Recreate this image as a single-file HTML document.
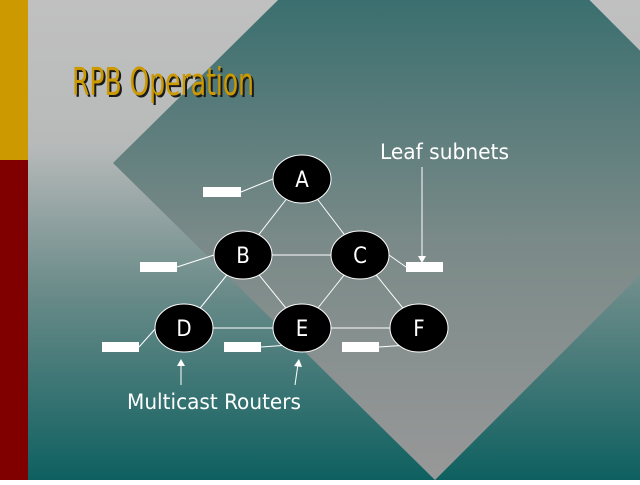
<!DOCTYPE html>
<html><head><meta charset="utf-8"><style>html,body{margin:0;padding:0;overflow:hidden}</style></head><body>
<svg width="640" height="480" viewBox="0 0 640 480" xmlns="http://www.w3.org/2000/svg" font-family="'DejaVu Sans Condensed','DejaVu Sans','Liberation Sans',sans-serif">
<defs>
<linearGradient id="bg" x1="0" y1="0" x2="0" y2="480" gradientUnits="userSpaceOnUse">
<stop offset="0" stop-color="#c0c0c0"/><stop offset="0.3" stop-color="#b8baba"/><stop offset="0.6" stop-color="#6c8c8a"/><stop offset="1" stop-color="#0e6060"/></linearGradient>
<linearGradient id="dm" x1="0" y1="0" x2="0" y2="480" gradientUnits="userSpaceOnUse">
<stop offset="0" stop-color="#3b6f6f"/><stop offset="0.5" stop-color="#7a8a88"/><stop offset="1" stop-color="#989898"/></linearGradient>
</defs>
<rect width="640" height="480" fill="url(#bg)"/>
<polygon points="435,-155 752,163 435,480 113,163" fill="url(#dm)"/>
<rect x="0" y="0" width="28" height="160" fill="#cc9900"/>
<rect x="0" y="160" width="28" height="320" fill="#800000"/>
<text x="74" y="97" font-size="38" fill="#1a1a1a" textLength="182" lengthAdjust="spacingAndGlyphs">RPB Operation</text>
<text x="72" y="95" font-size="38" fill="#cc9900" textLength="182" lengthAdjust="spacingAndGlyphs">RPB Operation</text>
<g stroke="#fff" stroke-width="1" fill="none">
<line x1="302" y1="179" x2="243" y2="255"/><line x1="302" y1="179" x2="360" y2="255"/>
<line x1="243" y1="255" x2="360" y2="255"/>
<line x1="243" y1="255" x2="184" y2="328"/><line x1="243" y1="255" x2="302" y2="328"/>
<line x1="360" y1="255" x2="302" y2="328"/><line x1="360" y1="255" x2="419" y2="328"/>
<line x1="184" y1="328" x2="419" y2="328"/>
<line x1="241" y1="192" x2="273" y2="179"/><line x1="177" y1="267" x2="214" y2="255"/>
<line x1="389" y1="255" x2="406" y2="267"/><line x1="139" y1="347" x2="156" y2="328"/>
<line x1="261" y1="347" x2="290" y2="345"/><line x1="379" y1="347" x2="408" y2="345"/>
<line x1="422" y1="167" x2="422" y2="258"/>
<line x1="181" y1="385" x2="181" y2="364"/><line x1="295" y1="385" x2="298" y2="364"/>
</g>
<g fill="#fff">
<polygon points="418,256 426,256 422,263"/>
<polygon points="177,366 185,366 181,359"/>
<polygon points="294,366 302,367 299,359"/>
<rect x="203" y="187" width="38" height="10"/><rect x="140" y="262" width="37" height="10"/>
<rect x="406" y="262" width="37" height="10"/><rect x="102" y="342" width="37" height="10"/>
<rect x="224" y="342" width="37" height="10"/><rect x="342" y="342" width="37" height="10"/>
</g>
<g fill="#000" stroke="#fff" stroke-width="1">
<ellipse cx="302" cy="179" rx="29" ry="24"/><ellipse cx="243" cy="255" rx="29" ry="24"/>
<ellipse cx="360" cy="255" rx="29" ry="24"/><ellipse cx="184" cy="328" rx="29" ry="24"/>
<ellipse cx="302" cy="328" rx="29" ry="24"/><ellipse cx="419" cy="328" rx="29" ry="24"/>
</g>
<g fill="#fff" font-size="22" text-anchor="middle">
<text x="302" y="187">A</text><text x="243" y="263">B</text><text x="360" y="263">C</text>
<text x="184" y="336">D</text><text x="302" y="336">E</text><text x="419" y="336">F</text>
</g>
<text x="380" y="159" font-size="21" fill="#fff" textLength="129" lengthAdjust="spacingAndGlyphs">Leaf subnets</text>
<text x="127" y="409" font-size="21" fill="#fff" textLength="174" lengthAdjust="spacingAndGlyphs">Multicast Routers</text>
</svg>
</body></html>
